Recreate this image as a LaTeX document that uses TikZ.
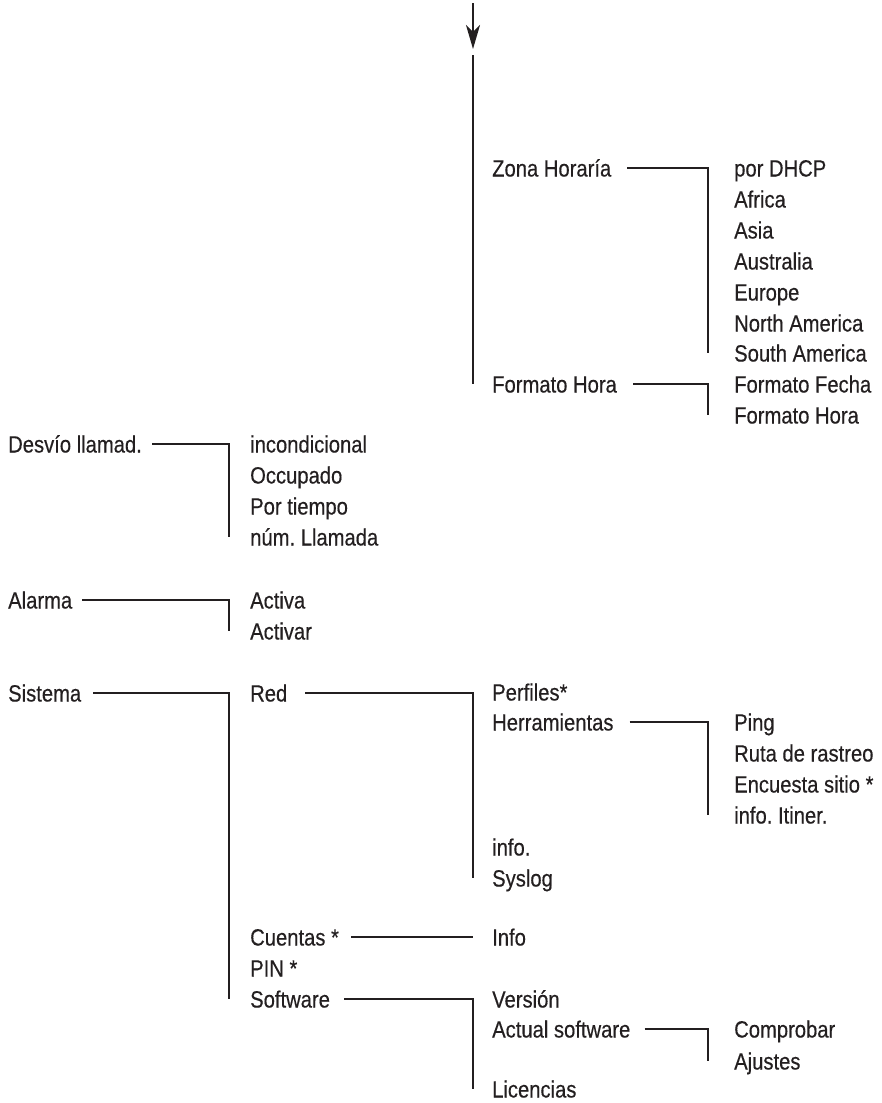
\documentclass[tikz,border=0pt]{standalone}
\usepackage{fontspec}
\setmainfont{Liberation Sans}[FakeStretch=0.86, FakeBold=0.4]
\usepackage{tikz}
\usetikzlibrary{arrows.meta}
\definecolor{ink}{HTML}{231F20}
\tikzset{%
    menu/.style={anchor=west, inner sep=0pt, text height=17pt, text depth=0pt, text=ink},
    link/.style={draw=ink, line width=2pt},
    >={Stealth[length=24pt,width=14pt,inset=7pt]}
}
\frenchspacing

\begin{document}
\begin{tikzpicture}[x=1pt, y=-1pt, font=\fontsize{23.5}{28}\selectfont]
      \useasboundingbox (0,0) rectangle (881,1103);

      % incoming branch
      \coordinate (entry) at (473,3);
      \coordinate (entryend) at (473,49);
      \coordinate (spine) at (473,55);

      \node[menu] (zona) at (492,168) {Zona Horaría};
      \node[menu] (fhora) at (492,384) {Formato Hora};

      \node[menu] (dhcp) at (734,168) {por DHCP};
      \node[menu] (africa) at (734,199) {Africa};
      \node[menu] (asia) at (734,230) {Asia};
      \node[menu] (australia) at (734,261) {Australia};
      \node[menu] (europe) at (734,292) {Europe};
      \node[menu] (namerica) at (734,323) {North America};
      \node[menu] (samerica) at (734,353) {South America};
      \node[menu] (ffecha) at (734,384) {Formato Fecha};
      \node[menu] (fhorab) at (734,415) {Formato Hora};

      % left column
      \node[menu] (desvio) at (8,444) {Desvío llamad.};
      \node[menu] (incond) at (250,444) {incondicional};
      \node[menu] (ocup) at (250,475) {Occupado};
      \node[menu] (tiempo) at (250,506) {Por tiempo};
      \node[menu] (numll) at (250,537) {núm. Llamada};

      \node[menu] (alarma) at (8,600) {Alarma};
      \node[menu] (activa) at (250,600) {Activa};
      \node[menu] (activar) at (250,631) {Activar};

      \node[menu] (sistema) at (8,693) {Sistema};
      \node[menu] (red) at (250,693) {Red};
      \node[menu] (cuentas) at (250,937) {Cuentas *};
      \node[menu] (pin) at (250,968) {PIN *};
      \node[menu] (software) at (250,999) {Software};

      \node[menu] (perfiles) at (492,692) {Perfiles*};
      \node[menu] (herr) at (492,722) {Herramientas};
      \node[menu] (info) at (492,847) {info.};
      \node[menu] (syslog) at (492,878) {Syslog};

      \node[menu] (ping) at (734,722) {Ping};
      \node[menu] (ruta) at (734,753) {Ruta de rastreo};
      \node[menu] (encuesta) at (734,784) {Encuesta sitio *};
      \node[menu] (itiner) at (734,815) {info. Itiner.};

      \node[menu] (infob) at (492,937) {Info};
      \node[menu] (version) at (492,999) {Versión};
      \node[menu] (actual) at (492,1029) {Actual software};
      \node[menu] (licencias) at (492,1089) {Licencias};

      \node[menu] (comprobar) at (734,1029) {Comprobar};
      \node[menu] (ajustes) at (734,1061) {Ajustes};

      \draw[link, ->] (entry) -- (entryend);
      \draw[link] (spine) -- (spine |- fhora.west);

      \draw[link] ([xshift=16pt]zona.east) -| ([xshift=-26pt]samerica.west);
      \draw[link] ([xshift=16pt]fhora.east) -| ([xshift=-26pt]fhorab.west);

      \draw[link] ([xshift=10pt]desvio.east) -| ([xshift=-21pt]numll.west);
      \draw[link] ([xshift=10pt]alarma.east) -| ([xshift=-21pt]activar.west);
      \draw[link] ([xshift=12pt]sistema.east) -| ([xshift=-21pt]software.west);

      \draw[link] ([xshift=18pt]red.east) -| ([xshift=-19pt]syslog.west);
      \draw[link] ([xshift=16pt]herr.east) -| ([xshift=-26pt]itiner.west);
      \draw[link] ([xshift=12pt]cuentas.east) -- ([xshift=-19pt]infob.west);
      \draw[link] ([xshift=14pt]software.east) -| ([xshift=-19pt]licencias.west);
      \draw[link] ([xshift=14pt]actual.east) -| ([xshift=-26pt]ajustes.west);
    \end{tikzpicture}
\end{document}
